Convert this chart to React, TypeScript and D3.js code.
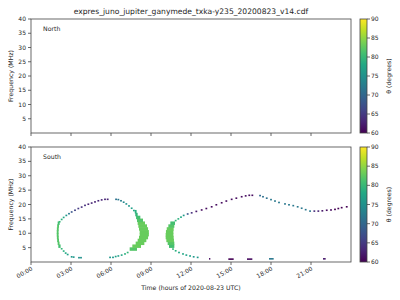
import React from "react";
import * as d3 from "d3";

const TITLE = "expres_juno_jupiter_ganymede_txka-y235_20200823_v14.cdf";
const X_TICKS = [0, 3, 6, 9, 12, 15, 18, 21];
const X_TICK_LABELS = ["00:00", "03:00", "06:00", "09:00", "12:00", "15:00", "18:00", "21:00"];
const Y_TICKS = [5, 10, 15, 20, 25, 30, 35, 40];
const CB_TICKS = [60, 65, 70, 75, 80, 85, 90];

// thin dots: [time (h), freq (MHz), theta (deg)]
const arc1Left: [number, number, number][] = [
  [3.75, 1.5, 75], [3.6, 1.5, 75], [3.2, 1.7, 76], [3.05, 1.8, 76], [2.75, 2.6, 77], [2.6, 3.1, 78],
  [2.45, 3.8, 79], [2.3, 4.6, 80],
  [2.15, 14.0, 80], [2.3, 14.8, 79], [2.45, 15.5, 78], [2.65, 16.2, 76], [2.85, 16.8, 72], [3.05, 17.4, 68],
  [3.3, 18.0, 66], [3.55, 18.6, 65], [3.8, 19.1, 64], [4.05, 19.7, 64], [4.3, 20.1, 63], [4.55, 20.5, 63],
  [4.8, 20.9, 63], [5.05, 21.3, 63], [5.3, 21.6, 63], [5.55, 21.8, 63], [5.75, 21.8, 63],
];
const arc1Right: [number, number, number][] = [
  [6.38, 21.8, 71], [6.55, 21.7, 72], [6.75, 21.3, 73], [6.95, 20.8, 74], [7.15, 20.2, 75], [7.35, 19.5, 76],
  [7.55, 18.7, 77], [7.72, 17.9, 78],
  [5.93, 1.6, 76], [6.15, 1.6, 76], [6.35, 1.9, 77], [6.55, 2.1, 77], [6.8, 2.4, 78], [7.05, 2.8, 79], [7.25, 3.3, 80],
];
const arc2Lower: [number, number, number][] = [
  [10.65, 4.5, 80], [10.85, 3.9, 79], [11.1, 3.3, 78], [11.4, 2.8, 78], [11.65, 2.4, 77], [11.93, 2.1, 77],
  [12.2, 1.8, 76], [12.5, 1.6, 76],
];
const arc2Upper: [number, number, number][] = [
  [10.85, 14.4, 80], [11.05, 15.0, 79], [11.25, 15.6, 78], [11.45, 16.2, 76], [11.75, 16.7, 68], [12.05, 17.1, 64],
  [12.4, 17.6, 62], [12.8, 18.1, 61], [13.15, 18.6, 61], [13.55, 19.2, 61], [13.9, 19.9, 61], [14.3, 20.6, 61],
  [14.65, 21.2, 61], [15.05, 21.8, 61], [15.4, 22.2, 61], [15.8, 22.7, 61], [16.1, 23.0, 61], [16.37, 23.2, 61],
  [16.6, 23.2, 61],
  [17.18, 23.1, 70], [17.4, 22.7, 71], [17.68, 22.2, 71], [18.0, 21.7, 72], [18.3, 21.2, 72], [18.6, 20.7, 72],
  [19.05, 20.2, 72], [19.35, 19.9, 72], [19.67, 19.6, 72], [20.0, 19.2, 72], [20.3, 18.7, 72], [20.6, 18.2, 72],
  [20.93, 17.7, 72], [21.25, 17.7, 64], [21.55, 17.7, 63], [21.85, 17.8, 62], [22.18, 18.0, 61], [22.5, 18.1, 61],
  [22.8, 18.3, 60], [23.05, 18.6, 60], [23.3, 18.9, 60], [23.68, 19.2, 60],
];

// thick bands: [freq row start (MHz), t start (h), t end (h), theta]
const arc1LeftBand: [number, number, number, number][] = [
  [5, 2.05, 2.22, 81], [6, 2.0, 2.14, 82], [7, 1.96, 2.1, 82], [8, 1.94, 2.08, 82], [9, 1.93, 2.07, 82],
  [10, 1.93, 2.07, 82], [11, 1.94, 2.08, 82], [12, 1.96, 2.1, 82], [13, 2.0, 2.15, 81],
];
const arc1RightBand: [number, number, number, number][] = [
  [4, 7.4, 7.95, 82], [5, 7.6, 8.25, 83], [6, 7.85, 8.5, 83], [7, 8.0, 8.65, 83], [8, 8.1, 8.78, 83],
  [9, 8.15, 8.84, 83], [10, 8.15, 8.84, 83], [11, 8.1, 8.78, 83], [12, 8.05, 8.7, 83], [13, 8.0, 8.55, 83],
  [14, 7.95, 8.4, 82], [15, 7.88, 8.2, 81], [16, 7.82, 8.0, 80], [17, 7.78, 7.92, 79],
];
const arc2Band: [number, number, number, number][] = [
  [5, 10.35, 10.75, 81], [6, 10.25, 10.75, 82], [7, 10.15, 10.72, 83], [8, 10.1, 10.7, 83], [9, 10.1, 10.68, 83],
  [10, 10.12, 10.68, 83], [11, 10.18, 10.7, 83], [12, 10.3, 10.75, 82], [13, 10.45, 10.8, 81],
];
// low-frequency dashes: [t start, t end, freq, theta]
const bottomDashes: [number, number, number, number][] = [
  [13.35, 13.45, 1.1, 61], [14.8, 15.2, 1.0, 60], [16.2, 16.6, 1.0, 61], [17.85, 18.2, 1.1, 72], [21.9, 22.1, 1.1, 62],
];

const FONT = "DejaVu Sans, sans-serif";
const AX_L = 31, AX_R = 351;
const PANELS = [
  { top: 19, bottom: 133, label: "North", hasData: false, showXLabels: false },
  { top: 147, bottom: 262, label: "South", hasData: true, showXLabels: true },
];

function color(theta: number) {
  return d3.interpolateViridis((theta - 60) / 30);
}

export default function App() {
  const x = d3.scaleLinear().domain([0, 24]).range([AX_L, AX_R]);
  const thinDots = [...arc1Left, ...arc1Right, ...arc2Lower, ...arc2Upper];
  const bands = [...arc1LeftBand, ...arc1RightBand, ...arc2Band];
  const cbX = 360, cbW = 7;
  const txt = "#262626";
  return (
    <svg width={400} height={300} style={{ display: "block", position: "absolute", left: 0, top: 0 }} fontFamily={FONT}>
      <defs>
        <linearGradient id="viridis" x1="0" y1="1" x2="0" y2="0">
          {d3.range(0, 1.0001, 0.1).map((t) => (
            <stop key={t} offset={t} stopColor={d3.interpolateViridis(t)} />
          ))}
        </linearGradient>
      </defs>
      <rect width={400} height={300} fill="white" />
      <text x={191} y={14} fontSize={7.6} textAnchor="middle" fill={txt}>{TITLE}</text>
      {PANELS.map((p, pi) => {
        const y = d3.scaleLinear().domain([0, 40]).range([p.bottom, p.top]);
        const cb = d3.scaleLinear().domain([60, 90]).range([p.bottom, p.top]);
        const midY = (p.top + p.bottom) / 2;
        return (
          <g key={pi}>
            {p.hasData && (
              <g>
                {bands.map(([f, t0, t1, th], i) => (
                  <rect key={"b" + i} x={x(t0)} y={y(f + 1) - 0.3} width={x(t1) - x(t0)} height={y(f) - y(f + 1) + 0.6} fill={color(th)} />
                ))}
                {thinDots.map(([t, f, th], i) => (
                  <rect key={"d" + i} x={x(t) - 0.9} y={y(f) - 0.8} width={1.8} height={1.6} fill={color(th)} />
                ))}
                {bottomDashes.map(([t0, t1, f, th], i) => (
                  <rect key={"s" + i} x={x(t0)} y={y(f) - 0.8} width={x(t1) - x(t0)} height={1.6} fill={color(th)} />
                ))}
              </g>
            )}
            <rect x={AX_L} y={p.top} width={AX_R - AX_L} height={p.bottom - p.top} fill="none" stroke="#444" strokeWidth={0.8} />
            {Y_TICKS.map((v) => (
              <g key={v}>
                <line x1={AX_L - 3} x2={AX_L} y1={y(v)} y2={y(v)} stroke="#444" strokeWidth={0.8} />
                <text x={AX_L - 5} y={y(v) + 2} fontSize={6} textAnchor="end" fill={txt}>{v}</text>
              </g>
            ))}
            {X_TICKS.map((v, i) => (
              <g key={v}>
                <line x1={x(v)} x2={x(v)} y1={p.bottom} y2={p.bottom + 3} stroke="#444" strokeWidth={0.8} />
                {p.showXLabels && (
                  <text transform={`translate(${x(v) + 1},${p.bottom + 6}) rotate(-30)`} fontSize={6} textAnchor="end" dy="0.35em" fill={txt}>
                    {X_TICK_LABELS[i]}
                  </text>
                )}
              </g>
            ))}
            <text transform={`translate(11,${midY}) rotate(-90)`} fontSize={6.2} textAnchor="middle" dy="0.35em" fill={txt}>Frequency (MHz)</text>
            <text x={43} y={p.top + 12} fontSize={6.2} fill={txt}>{p.label}</text>
            <rect x={cbX} y={p.top} width={cbW} height={p.bottom - p.top} fill="url(#viridis)" />
            <rect x={cbX} y={p.top} width={cbW} height={p.bottom - p.top} fill="none" stroke="#444" strokeWidth={0.8} />
            {CB_TICKS.map((v) => (
              <g key={v}>
                <line x1={cbX + cbW} x2={cbX + cbW + 3} y1={cb(v)} y2={cb(v)} stroke="#444" strokeWidth={0.8} />
                <text x={cbX + cbW + 4} y={cb(v) + 2} fontSize={6} fill={txt}>{v}</text>
              </g>
            ))}
            <text transform={`translate(389,${midY}) rotate(-90)`} fontSize={6.2} textAnchor="middle" dy="0.35em" fill={txt}>θ (degrees)</text>
          </g>
        );
      })}
      <text x={191} y={290} fontSize={6.2} textAnchor="middle" fill={txt}>Time (hours of 2020-08-23 UTC)</text>
    </svg>
  );
}
